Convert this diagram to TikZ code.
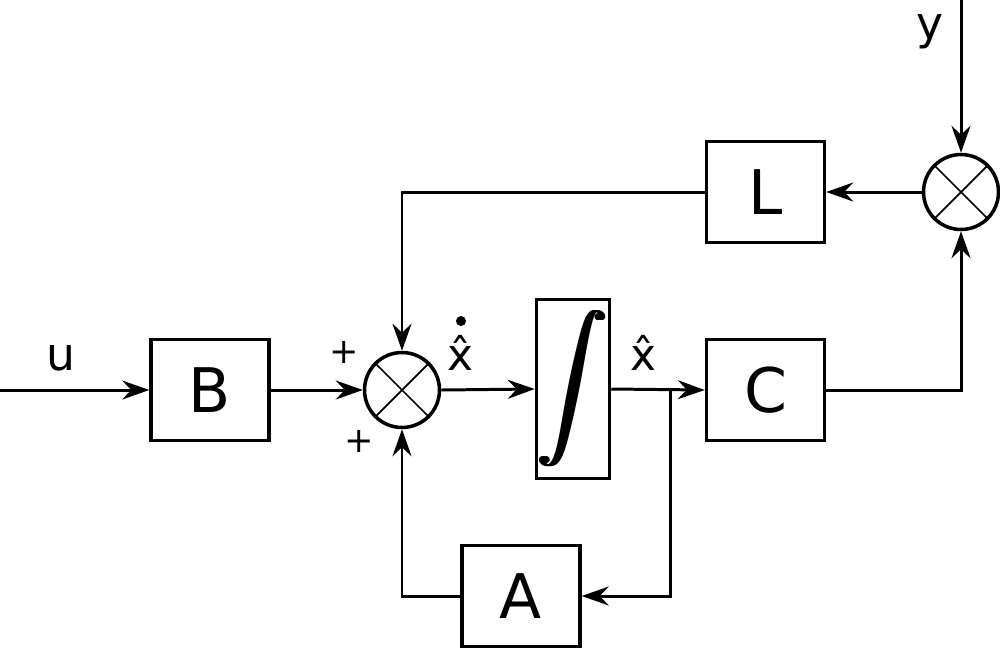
\documentclass[tikz,border=0pt]{standalone}
\usepackage{fontspec}
\setmainfont{DejaVu Sans}
\usepackage{graphicx}
\usetikzlibrary{arrows.meta}

\begin{document}
\begin{tikzpicture}[x=0.02cm,y=-0.02cm,block/.style={draw,line width=2pt,minimum width=2.36cm,minimum height=2.02cm,inner sep=0pt,font=\fontsize{35}{42}\selectfont},junction/.style={circle,draw,line width=2pt,minimum size=1.5cm,inner sep=0pt},signal/.style={line width=1.7pt,-{Stealth[length=5.4mm,width=3.8mm,inset=1.8mm]}},cross/.style={line width=1pt},sig/.style={inner sep=0pt,font=\fontsize{26}{30}\selectfont},est/.style={inner sep=0pt,anchor=base,font=\fontsize{25}{30}\selectfont},sign/.style={inner sep=0pt,font=\fontsize{20}{24}\selectfont}]
\useasboundingbox (0,0) rectangle (1000,650);
\coordinate (u0) at (0,390);
\coordinate (y0) at (961,0);
\coordinate (br) at (670,390);
\node[block] (B) at (210,390) {B};
\node[block] (C) at (765.5,390) {C};
\node[block] (L) at (765.5,192) {L};
\node[block] (A) at (521,596) {A};
\node[draw,line width=2pt,minimum width=1.46cm,minimum height=3.58cm,inner sep=0pt] (I) at (573,389) {};
\foreach \dx in {-1.2,-0.6,0,0.6,1.2}
  \node[inner sep=0pt] at ([xshift=\dx pt]I.center) {\scalebox{4}{$\displaystyle\int$}};
\node[junction] (S1) at (402,390) {};
\node[junction] (S2) at (961,192) {};
\draw[cross] (S1.north east) -- (S1.south west);
\draw[cross] (S1.north west) -- (S1.south east);
\draw[cross] (S2.north east) -- (S2.south west);
\draw[cross] (S2.north west) -- (S2.south east);
\draw[signal] (u0) -- (B.west);
\draw[signal] (B.east) -- (S1.west);
\draw[signal] (S1.east) -- (I.west);
\draw[signal] (I.east) -- (C.west);
\draw[signal] (br) |- (A.east);
\draw[signal] (A.west) -| (S1.south);
\draw[signal] (C.east) -| (S2.south);
\draw[signal] (y0) -- (S2.north);
\draw[signal] (S2.west) -- (L.east);
\draw[signal] (L.west) -| (S1.north);
\node[sig] (uL) at (61,358) {u};
\node[sig] (yL) at (930,32) {y};
\node[est] (xdL) at (460,370) {x̂};
\fill (xdL.base) ++(1,-49) circle (0.1cm);
\node[est] (xL) at (643,370) {x̂};
\node[sign] (p1) at (344,352) {+};
\node[sign] (p2) at (359,441) {+};
\end{tikzpicture}
\end{document}
